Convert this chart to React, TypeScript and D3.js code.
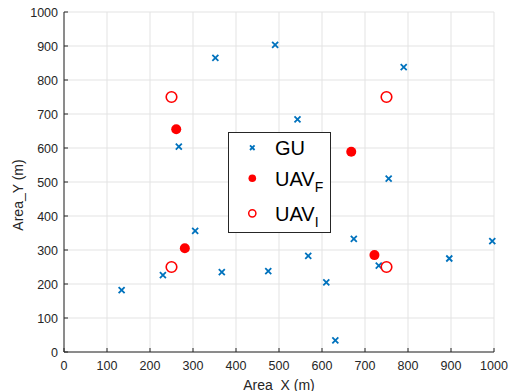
import React from "react";
import * as d3 from "d3";

const guX = [352, 267, 491, 790, 543, 755, 134, 230, 305, 367, 475, 568, 610, 631, 674, 732, 896, 996];
const guY = [865, 604, 903, 838, 684, 510, 182, 226, 356, 235, 238, 283, 205, 34, 333, 254, 275, 326];
const uavFX = [261, 668, 281, 722];
const uavFY = [655, 589, 305, 285];
const uavIX = [250, 750, 250, 750];
const uavIY = [750, 750, 250, 250];
const xTicks = [0, 100, 200, 300, 400, 500, 600, 700, 800, 900, 1000];
const yTicks = [0, 100, 200, 300, 400, 500, 600, 700, 800, 900, 1000];

const W = 509, H = 391;
const L = 64, R = 494, T = 12, B = 352;

export default function App() {
  const x = d3.scaleLinear().domain([0, 1000]).range([L, R]);
  const y = d3.scaleLinear().domain([0, 1000]).range([B, T]);
  const blue = "#0072BD";
  const red = "#FF0000";
  const axisCol = "#262626";
  const font = "'Liberation Sans', Arial, sans-serif";
  const cross = (cx: number, cy: number, s: number, key: any) => (
    <path key={key} d={`M${cx - s},${cy - s}L${cx + s},${cy + s}M${cx - s},${cy + s}L${cx + s},${cy - s}`} stroke={blue} strokeWidth={1.8} fill="none" />
  );
  return (
    <svg width={W} height={H} style={{ position: "absolute", left: 0, top: 0 }} fontFamily={font}>
      <rect x={0} y={0} width={W} height={H} fill="#fff" />
      {xTicks.map((t) => (
        <line key={"gx" + t} x1={x(t)} x2={x(t)} y1={T} y2={B} stroke="#e3e3e3" strokeWidth={1} />
      ))}
      {yTicks.map((t) => (
        <line key={"gy" + t} x1={L} x2={R} y1={y(t)} y2={y(t)} stroke="#e3e3e3" strokeWidth={1} />
      ))}
      <line x1={L} x2={L} y1={T} y2={B} stroke={axisCol} strokeWidth={1} />
      <line x1={L} x2={R} y1={B} y2={B} stroke={axisCol} strokeWidth={1} />
      {xTicks.map((t) => (
        <g key={"tx" + t}>
          <line x1={x(t)} x2={x(t)} y1={B} y2={B - 4} stroke={axisCol} />
          <text x={x(t)} y={B + 18} textAnchor="middle" fontSize={12.5} fill={axisCol}>{t}</text>
        </g>
      ))}
      {yTicks.map((t) => (
        <g key={"ty" + t}>
          <line x1={L} x2={L + 4} y1={y(t)} y2={y(t)} stroke={axisCol} />
          <text x={L - 6} y={y(t) + 4.5} textAnchor="end" fontSize={12.5} fill={axisCol}>{t}</text>
        </g>
      ))}
      <text x={(L + R) / 2} y={389.5} textAnchor="middle" fontSize={14} fill={axisCol}>Area_X (m)</text>
      <text transform={`translate(23,195) rotate(-90)`} textAnchor="middle" fontSize={14} fill={axisCol}>Area_Y (m)</text>
      {guX.map((v, i) => cross(x(v), y(guY[i]), 3, "g" + i))}
      {uavFX.map((v, i) => (
        <circle key={"f" + i} cx={x(v)} cy={y(uavFY[i])} r={5} fill={red} />
      ))}
      {uavIX.map((v, i) => (
        <circle key={"i" + i} cx={x(v)} cy={y(uavIY[i])} r={5.3} fill="none" stroke={red} strokeWidth={1.6} />
      ))}
      <g>
        <rect x={228.5} y={132.5} width={102} height={100} fill="#fff" stroke={axisCol} strokeWidth={1} />
        {cross(252.3, 147.7, 2.3, "lg")}
        <circle cx={252.3} cy={178.3} r={3.8} fill={red} />
        <circle cx={252.3} cy={213.3} r={3.6} fill="none" stroke={red} strokeWidth={1.5} />
        <text x={275} y={155} fontSize={20} fill="#000">GU</text>
        <text x={275} y={186} fontSize={20} fill="#000">UAV<tspan dy={6} fontSize={14}>F</tspan></text>
        <text x={275} y={221} fontSize={20} fill="#000">UAV<tspan dy={6} fontSize={14}>I</tspan></text>
      </g>
    </svg>
  );
}
